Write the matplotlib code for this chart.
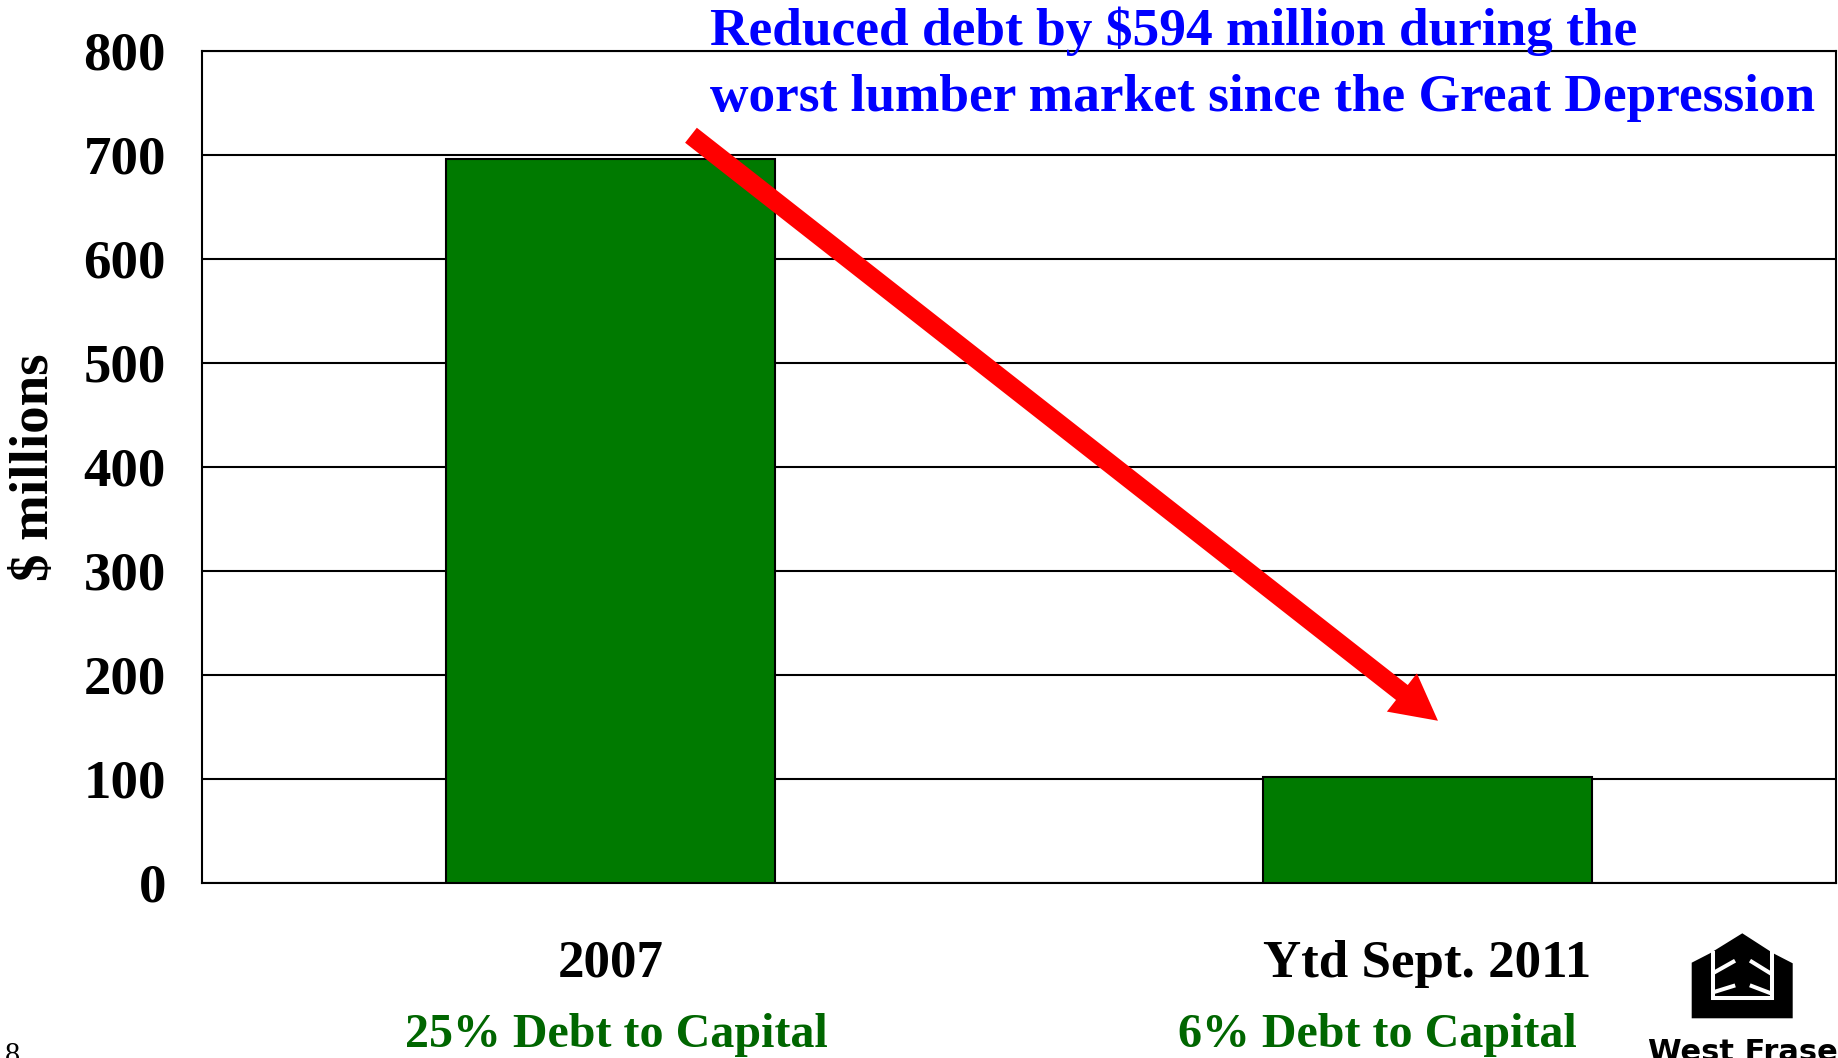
import numpy as np
import matplotlib.pyplot as plt
from matplotlib.patches import Polygon

# debt levels, $ millions
categories = ['2007', 'Ytd Sept. 2011']
debt = [696, 102]
ratio_labels = ['25% Debt to Capital', '6% Debt to Capital']
yticks = [0, 100, 200, 300, 400, 500, 600, 700, 800]

serif = 'Liberation Serif'
bar_green = '#007a00'
text_green = '#006600'

fig = plt.figure(figsize=(18.38, 10.58), dpi=100)
ax = fig.add_axes([202 / 1838, 1 - 883 / 1058, 1634 / 1838, 832 / 1058])

x = np.arange(len(categories))
ax.bar(x, debt, width=0.403, color=bar_green, edgecolor='black', linewidth=1.5, zorder=3)

ax.set_xlim(-0.5, 1.5)
ax.set_ylim(0, 800)
ax.set_yticks(yticks)
ax.set_yticklabels([str(v) for v in yticks], fontfamily=serif, fontweight='bold', fontsize=39.5)
ax.tick_params(axis='y', length=0, pad=26)
ax.set_xticks([])
ax.yaxis.grid(True, color='black', linewidth=1.5, zorder=0)
ax.set_axisbelow(True)
for s in ax.spines.values():
    s.set_linewidth(1.5)
    s.set_color('black')

ylab = ax.set_ylabel('$ millions', fontfamily=serif, fontweight='bold', fontsize=39.5)
ylab.set_va('center')
ax.yaxis.set_label_coords(-0.1022, 0.5)

# category names and debt-to-capital notes under the axis
trans = ax.get_xaxis_transform()
for xi, name in zip(x, categories):
    ax.text(xi, -0.097, name, transform=trans, ha='center', va='center',
            fontfamily=serif, fontweight='bold', fontsize=38.2, clip_on=False)
for xi, note in zip([0.007, 0.939], ratio_labels):
    ax.text(xi, -0.1826, note, transform=trans, ha='center', va='center',
            fontfamily=serif, fontweight='bold', fontsize=34.6, color=text_green, clip_on=False)

# big red arrow from the 2007 bar down to the 2011 bar
ax.annotate('', xy=(1.0128, 156), xytext=(0.0985, 719),
            arrowprops=dict(facecolor='#ff0000', edgecolor='none', width=13.7,
                            headwidth=35, headlength=33, shrink=0),
            zorder=5, annotation_clip=False)

# headline
fig.text(710 / 1838, 1 - 45 / 1058, 'Reduced debt by $594 million during the',
         fontfamily=serif, fontweight='bold', fontsize=38.4, color='#0000ff', va='baseline')
fig.text(710 / 1838, 1 - 111 / 1058, 'worst lumber market since the Great Depression',
         fontfamily=serif, fontweight='bold', fontsize=38.4, color='#0000ff', va='baseline')

# page number
fig.text(5 / 1838, 1 - 1064 / 1058, '8', fontfamily=serif, fontsize=22, va='baseline')

# company logo, drawn in pixel coordinates
lg = fig.add_axes([1640 / 1838, 0, 198 / 1838, 158 / 1058])
lg.set_xlim(1640, 1838)
lg.set_ylim(1058, 900)
lg.axis('off')
outer = [(1691.7, 962.7), (1710, 953.3), (1742.3, 933.3), (1773.3, 953.3),
         (1792.7, 963.3), (1792.7, 1018.3), (1691.7, 1018.3)]
lg.add_patch(Polygon(outer, closed=True, facecolor='black', edgecolor='none'))
lg.plot([1713, 1713, 1771.7, 1771.7], [953, 997.7, 997.7, 953], color='white', lw=2.9,
        solid_joinstyle='miter')
for xs, ys in [([1715, 1733.3], [972, 961.7]), ([1751.7, 1770], [961.7, 973]),
               ([1715, 1733.3], [991.7, 986]), ([1751.7, 1770], [986, 993])]:
    lg.plot(xs, ys, color='white', lw=2.9)
lg.text(1648, 1061, 'West Fraser', fontfamily='DejaVu Sans', fontweight='heavy',
        fontsize=22, va='baseline', ha='left', clip_on=False)

fig.savefig('out.png', dpi=100)
